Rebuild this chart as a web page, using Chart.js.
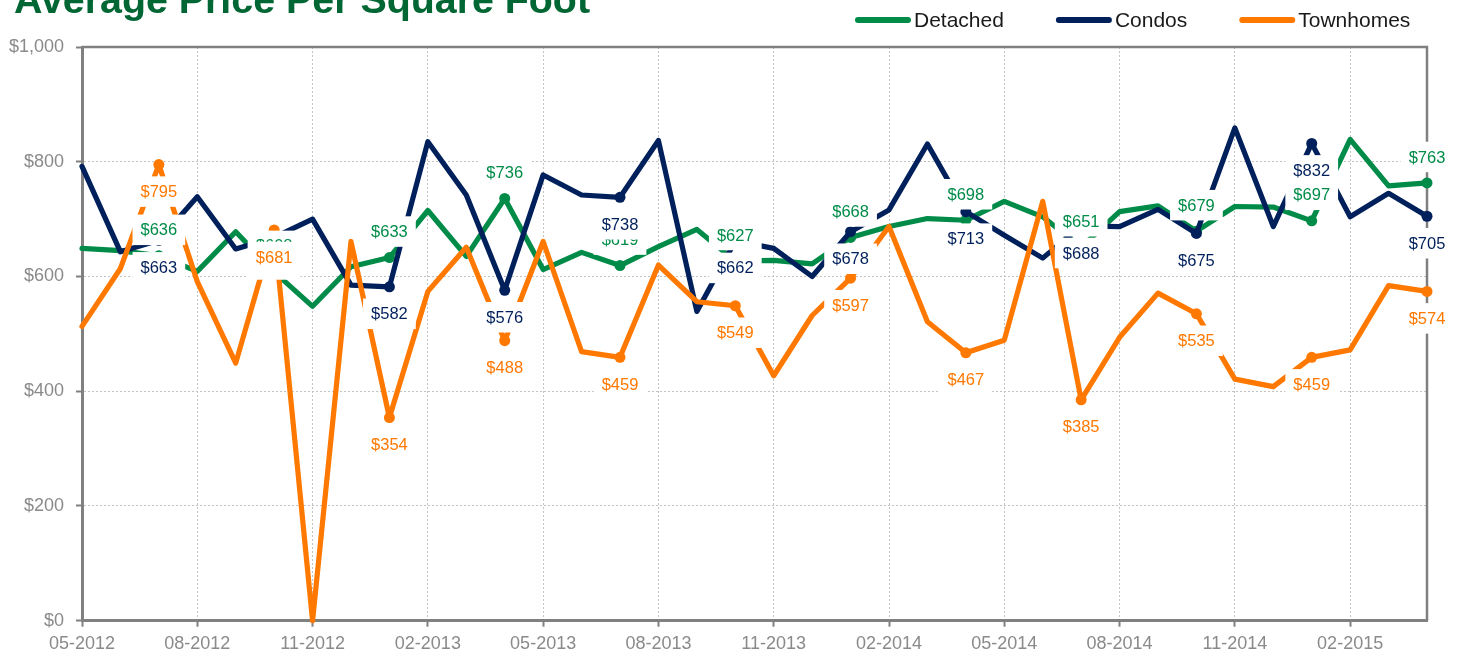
<!DOCTYPE html>
<html>
<head>
<meta charset="utf-8">
<script src="https://cdn.jsdelivr.net/npm/chart.js@4.4.1/dist/chart.umd.min.js"></script>
<style>
html,body{margin:0;padding:0;background:#fff;overflow:hidden}
#wrap{position:relative;width:1457px;height:653px}
</style>
</head>
<body>
<div id="wrap"><canvas id="c" width="1457" height="653"></canvas></div>
<script>
// ---- data ----
const months = ['05-2012','06-2012','07-2012','08-2012','09-2012','10-2012','11-2012','12-2012',
  '01-2013','02-2013','03-2013','04-2013','05-2013','06-2013','07-2013','08-2013','09-2013','10-2013','11-2013','12-2013',
  '01-2014','02-2014','03-2014','04-2014','05-2014','06-2014','07-2014','08-2014','09-2014','10-2014','11-2014','12-2014',
  '01-2015','02-2015','03-2015','04-2015'];
const detached = [649,645,636,609,678,608,548,617,633,715,635,736,612,642,619,652,682,627,628,622,668,687,701,698,731,704,651,713,723,679,722,721,697,839,758,763];
const condos = [792,643,663,739,648,668,700,585,582,835,742,576,777,742,738,837,539,662,649,600,678,716,831,713,672,632,688,687,717,675,859,687,832,704,745,705];
const townhomes = [513,614,795,591,449,681,0,661,354,574,651,488,661,469,459,620,556,549,427,532,597,687,521,467,489,731,385,494,571,535,421,408,459,472,584,574];
const seriesNames = ['Detached','Condos','Townhomes'];
const yTickValues = [0,200,400,600,800,1000];
const titleText = 'Average Price Per Square Foot';

// ---- style ----
const FAMILY = '"Liberation Sans", Arial, Helvetica, sans-serif';
const GREEN = '#008C48', NAVY = '#00205B', ORANGE = '#FF7800';
const AXIS = '#808080', GRID = '#c2c2c2', TICKTXT = '#8a8a8a';
const isLabeled = i => i % 3 === 2;
const isQuarterTick = i => i % 3 === 0;
const money = v => '$' + String(Math.round(v)).replace(/\B(?=(\d{3})+(?!\d))/g, ',');

const framePlugin = {
  id: 'frame',
  beforeDatasetsDraw(chart) {
    const {ctx, chartArea: a} = chart;
    ctx.save();
    ctx.strokeStyle = AXIS;
    ctx.lineWidth = 2.5;
    ctx.beginPath();
    ctx.moveTo(a.left, a.top);
    ctx.lineTo(a.right, a.top);
    ctx.lineTo(a.right, a.bottom);
    ctx.stroke();
    ctx.restore();
  }
};

const valueLabels = {
  id: 'valueLabels',
  afterDatasetsDraw(chart, args, opts) {
    const ctx = chart.ctx;
    ctx.save();
    ctx.font = opts.fontSize + 'px ' + FAMILY;
    ctx.textAlign = 'center';
    ctx.textBaseline = 'middle';
    chart.data.datasets.forEach((ds, di) => {
      const meta = chart.getDatasetMeta(di);
      const off = opts.offsets[di];
      meta.data.forEach((pt, i) => {
        if (!isLabeled(i)) return;
        const txt = money(ds.data[i]);
        const w = ctx.measureText(txt).width + 2 * opts.padX;
        const h = opts.fontSize + 2 * opts.padY;
        const cy = pt.y + off;
        ctx.fillStyle = '#ffffff';
        ctx.fillRect(pt.x - w / 2, cy - h / 2, w, h);
        ctx.fillStyle = ds.borderColor;
        ctx.fillText(txt, pt.x, cy + 1);
      });
    });
    ctx.restore();
  }
};

const headerPlugin = {
  id: 'header',
  afterDraw(chart) {
    const ctx = chart.ctx;
    ctx.save();
    ctx.font = 'bold 38px ' + FAMILY;
    ctx.fillStyle = '#006633';
    ctx.textBaseline = 'alphabetic';
    ctx.textAlign = 'left';
    const tw = ctx.measureText(titleText).width;
    ctx.translate(14, 12.5);
    ctx.scale(576 / tw, 1);
    ctx.fillText(titleText, 0, 0);
    ctx.restore();

    ctx.save();
    ctx.font = '21px ' + FAMILY;
    ctx.textBaseline = 'middle';
    ctx.textAlign = 'left';
    let x = 855;
    const y = 20;
    chart.data.datasets.forEach(ds => {
      ctx.strokeStyle = ds.borderColor;
      ctx.lineWidth = 6;
      ctx.lineCap = 'round';
      ctx.beginPath();
      ctx.moveTo(x + 3, y);
      ctx.lineTo(x + 53, y);
      ctx.stroke();
      ctx.fillStyle = '#1a1a1a';
      ctx.fillText(ds.label, x + 59, y + 1);
      x += 59 + ctx.measureText(ds.label).width + 52;
    });
    ctx.restore();
  }
};

const mkDataset = (label, data, color, order) => ({
  label, data, order,
  borderColor: color,
  backgroundColor: color,
  borderWidth: 5.2,
  tension: 0,
  fill: false,
  clip: false,
  borderJoinStyle: 'round',
  borderCapStyle: 'round',
  pointRadius: c => isLabeled(c.dataIndex) ? 5.5 : 0,
  pointHoverRadius: c => isLabeled(c.dataIndex) ? 5.5 : 0,
  pointBackgroundColor: color,
  pointBorderWidth: 0
});

new Chart(document.getElementById('c'), {
  type: 'line',
  data: {
    labels: months,
    datasets: [
      mkDataset(seriesNames[0], detached, GREEN, 3),
      mkDataset(seriesNames[1], condos, NAVY, 2),
      mkDataset(seriesNames[2], townhomes, ORANGE, 1)
    ]
  },
  options: {
    responsive: false,
    animation: false,
    devicePixelRatio: 1,
    events: [],
    layout: { padding: { top: 47, right: 30, left: 0, bottom: 0 } },
    plugins: {
      legend: { display: false },
      title: { display: false },
      tooltip: { enabled: false },
      valueLabels: { offsets: [-26, 27, 27], fontSize: 16.5, padX: 8, padY: 7 }
    },
    scales: {
      x: {
        type: 'category',
        offset: false,
        afterFit(s) { s.height = 32.3; },
        grid: {
          color: c => isQuarterTick(c.index) ? GRID : 'rgba(0,0,0,0)',
          lineWidth: 1,
          drawTicks: true,
          tickLength: 6,
          tickWidth: 2,
          tickBorderDash: [],
          tickColor: c => isQuarterTick(c.index) ? AXIS : 'rgba(0,0,0,0)'
        },
        border: { display: true, color: AXIS, width: 3, dash: [2, 2] },
        ticks: {
          autoSkip: false, maxRotation: 0, minRotation: 0, padding: 7,
          color: TICKTXT, font: { family: FAMILY, size: 18 },
          callback: (v, i) => isQuarterTick(i) ? months[i] : ''
        }
      },
      y: {
        min: 0, max: 1000,
        afterFit(s) { s.width = 82; },
        afterBuildTicks(s) { s.ticks = yTickValues.map(v => ({ value: v })); },
        grid: {
          color: GRID, lineWidth: 1, tickLength: 6, tickWidth: 2,
          tickBorderDash: [], tickColor: AXIS
        },
        border: { display: true, color: AXIS, width: 3, dash: [2, 2] },
        ticks: {
          padding: 12, color: TICKTXT, font: { family: FAMILY, size: 18 },
          callback: v => money(v)
        }
      }
    }
  },
  plugins: [framePlugin, valueLabels, headerPlugin]
});
</script>
</body>
</html>
